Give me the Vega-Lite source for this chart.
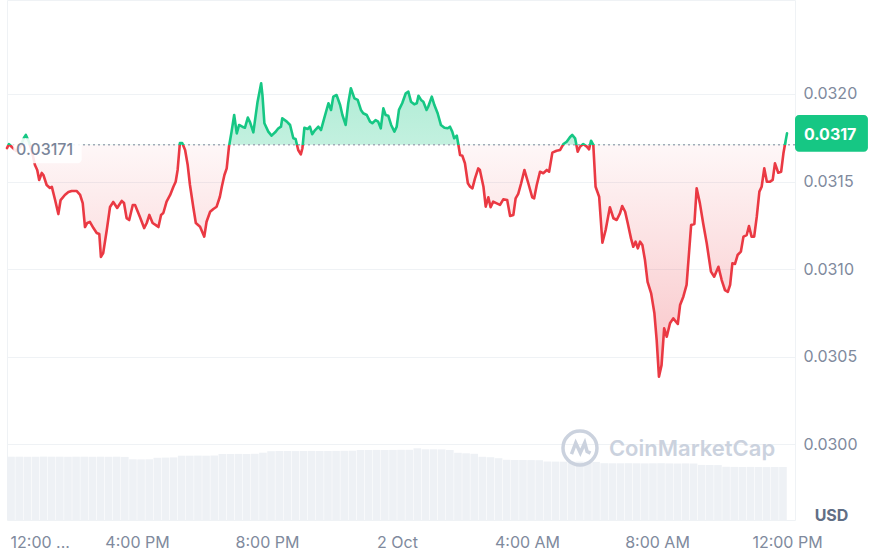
{
  "$schema": "https://vega.github.io/schema/vega-lite/v6.json",
  "width": 788,
  "height": 520,
  "autosize": {"type": "none"},
  "padding": {"left": 7, "top": 0, "right": 88, "bottom": 30},
  "background": "white",
  "config": {
    "view": {"stroke": "#eff2f5"},
    "font": "Inter",
    "axis": {"labelFont": "Inter", "labelFontSize": 16, "labelColor": "#808a9d", "domain": false, "ticks": false, "tickSize": 0, "gridColor": "#eff2f5", "gridWidth": 1}
  },
  "datasets": {
    "one": [{}],
    "price": [
      {"h":0.00,"price":0.031691},{"h":0.06,"price":0.031714},{"h":0.15,"price":0.031697},{"h":0.28,"price":0.031674},{"h":0.40,"price":0.031697},{"h":0.52,"price":0.031749},{"h":0.58,"price":0.031766},{"h":0.68,"price":0.031726},{"h":0.77,"price":0.031669},{"h":0.86,"price":0.031594},
      {"h":0.93,"price":0.031566},{"h":0.99,"price":0.031509},{"h":1.07,"price":0.031549},{"h":1.12,"price":0.031537},{"h":1.22,"price":0.031480},{"h":1.32,"price":0.031463},{"h":1.38,"price":0.031469},{"h":1.48,"price":0.031394},{"h":1.58,"price":0.031314},{"h":1.65,"price":0.031394},
      {"h":1.78,"price":0.031423},{"h":1.89,"price":0.031440},{"h":1.99,"price":0.031446},{"h":2.14,"price":0.031446},{"h":2.25,"price":0.031423},{"h":2.33,"price":0.031377},{"h":2.40,"price":0.031240},{"h":2.47,"price":0.031263},{"h":2.55,"price":0.031269},{"h":2.66,"price":0.031234},
      {"h":2.76,"price":0.031206},{"h":2.84,"price":0.031200},{"h":2.89,"price":0.031069},{"h":2.96,"price":0.031091},{"h":3.07,"price":0.031223},{"h":3.17,"price":0.031354},{"h":3.27,"price":0.031383},{"h":3.39,"price":0.031349},{"h":3.53,"price":0.031389},{"h":3.60,"price":0.031377},
      {"h":3.68,"price":0.031291},{"h":3.76,"price":0.031280},{"h":3.87,"price":0.031366},{"h":3.94,"price":0.031366},{"h":4.09,"price":0.031297},{"h":4.22,"price":0.031234},{"h":4.30,"price":0.031263},{"h":4.38,"price":0.031309},{"h":4.48,"price":0.031263},{"h":4.58,"price":0.031251},
      {"h":4.66,"price":0.031240},{"h":4.74,"price":0.031309},{"h":4.81,"price":0.031320},{"h":4.91,"price":0.031385},{"h":5.02,"price":0.031423},{"h":5.12,"price":0.031470},{"h":5.19,"price":0.031499},{"h":5.25,"price":0.031566},{"h":5.32,"price":0.031720},{"h":5.39,"price":0.031720},
      {"h":5.48,"price":0.031680},{"h":5.56,"price":0.031594},{"h":5.63,"price":0.031480},{"h":5.73,"price":0.031356},{"h":5.81,"price":0.031263},{"h":5.94,"price":0.031242},{"h":6.07,"price":0.031185},{"h":6.14,"price":0.031270},{"h":6.25,"price":0.031327},{"h":6.35,"price":0.031343},
      {"h":6.45,"price":0.031356},{"h":6.55,"price":0.031413},{"h":6.61,"price":0.031470},{"h":6.69,"price":0.031537},{"h":6.76,"price":0.031575},{"h":6.83,"price":0.031699},{"h":6.91,"price":0.031785},{"h":6.99,"price":0.031880},{"h":7.07,"price":0.031775},{"h":7.14,"price":0.031823},
      {"h":7.24,"price":0.031813},{"h":7.32,"price":0.031807},{"h":7.41,"price":0.031865},{"h":7.48,"price":0.031838},{"h":7.58,"price":0.031781},{"h":7.71,"price":0.031956},{"h":7.82,"price":0.032061},{"h":7.86,"price":0.031994},{"h":7.92,"price":0.031833},{"h":8.04,"price":0.031785},
      {"h":8.14,"price":0.031762},{"h":8.25,"price":0.031781},{"h":8.35,"price":0.031804},{"h":8.43,"price":0.031813},{"h":8.47,"price":0.031861},{"h":8.61,"price":0.031842},{"h":8.71,"price":0.031823},{"h":8.81,"price":0.031747},{"h":8.88,"price":0.031743},{"h":8.96,"price":0.031680},
      {"h":9.04,"price":0.031655},{"h":9.09,"price":0.031690},{"h":9.15,"price":0.031807},{"h":9.25,"price":0.031800},{"h":9.32,"price":0.031813},{"h":9.39,"price":0.031770},{"h":9.48,"price":0.031794},{"h":9.58,"price":0.031813},{"h":9.66,"price":0.031794},{"h":9.76,"price":0.031861},
      {"h":9.89,"price":0.031947},{"h":9.97,"price":0.031909},{"h":10.04,"price":0.031985},{"h":10.14,"price":0.031994},{"h":10.25,"price":0.031937},{"h":10.32,"price":0.031880},{"h":10.42,"price":0.031823},{"h":10.50,"price":0.031947},{"h":10.58,"price":0.032033},{"h":10.69,"price":0.031975},
      {"h":10.79,"price":0.031966},{"h":10.89,"price":0.031909},{"h":10.96,"price":0.031890},{"h":11.07,"price":0.031880},{"h":11.17,"price":0.031842},{"h":11.24,"price":0.031833},{"h":11.34,"price":0.031851},{"h":11.42,"price":0.031842},{"h":11.50,"price":0.031804},{"h":11.58,"price":0.031918},
      {"h":11.65,"price":0.031880},{"h":11.73,"price":0.031876},{"h":11.82,"price":0.031823},{"h":11.92,"price":0.031785},{"h":11.99,"price":0.031813},{"h":12.06,"price":0.031909},{"h":12.16,"price":0.031947},{"h":12.27,"price":0.032004},{"h":12.35,"price":0.032013},{"h":12.43,"price":0.031956},
      {"h":12.53,"price":0.031941},{"h":12.61,"price":0.031947},{"h":12.66,"price":0.031990},{"h":12.74,"price":0.031966},{"h":12.81,"price":0.031956},{"h":12.91,"price":0.031909},{"h":12.96,"price":0.031927},{"h":13.07,"price":0.031985},{"h":13.15,"price":0.031937},{"h":13.25,"price":0.031890},
      {"h":13.35,"price":0.031823},{"h":13.46,"price":0.031807},{"h":13.56,"price":0.031804},{"h":13.63,"price":0.031813},{"h":13.70,"price":0.031785},{"h":13.76,"price":0.031747},{"h":13.84,"price":0.031762},{"h":13.89,"price":0.031709},{"h":13.94,"price":0.031651},{"h":14.01,"price":0.031647},
      {"h":14.09,"price":0.031604},{"h":14.18,"price":0.031490},{"h":14.25,"price":0.031470},{"h":14.32,"price":0.031461},{"h":14.40,"price":0.031518},{"h":14.50,"price":0.031575},{"h":14.55,"price":0.031566},{"h":14.66,"price":0.031470},{"h":14.73,"price":0.031356},{"h":14.81,"price":0.031410},
      {"h":14.88,"price":0.031353},{"h":14.96,"price":0.031385},{"h":15.07,"price":0.031375},{"h":15.17,"price":0.031366},{"h":15.27,"price":0.031398},{"h":15.39,"price":0.031394},{"h":15.48,"price":0.031303},{"h":15.58,"price":0.031309},{"h":15.65,"price":0.031404},{"h":15.73,"price":0.031429},
      {"h":15.82,"price":0.031490},{"h":15.92,"price":0.031566},{"h":16.04,"price":0.031490},{"h":16.16,"price":0.031410},{"h":16.22,"price":0.031404},{"h":16.30,"price":0.031480},{"h":16.40,"price":0.031556},{"h":16.50,"price":0.031547},{"h":16.61,"price":0.031566},{"h":16.68,"price":0.031556},
      {"h":16.78,"price":0.031665},{"h":16.91,"price":0.031676},{"h":17.02,"price":0.031680},{"h":17.12,"price":0.031714},{"h":17.22,"price":0.031727},{"h":17.32,"price":0.031753},{"h":17.39,"price":0.031766},{"h":17.48,"price":0.031747},{"h":17.56,"price":0.031670},{"h":17.63,"price":0.031699},
      {"h":17.73,"price":0.031714},{"h":17.84,"price":0.031699},{"h":17.91,"price":0.031684},{"h":17.97,"price":0.031733},{"h":18.04,"price":0.031709},{"h":18.11,"price":0.031470},{"h":18.22,"price":0.031413},{"h":18.32,"price":0.031150},{"h":18.42,"price":0.031223},{"h":18.55,"price":0.031353},
      {"h":18.66,"price":0.031290},{"h":18.76,"price":0.031280},{"h":18.86,"price":0.031318},{"h":18.93,"price":0.031360},{"h":19.02,"price":0.031327},{"h":19.10,"price":0.031261},{"h":19.20,"price":0.031175},{"h":19.27,"price":0.031127},{"h":19.34,"price":0.031156},{"h":19.41,"price":0.031118},
      {"h":19.48,"price":0.031156},{"h":19.55,"price":0.031137},{"h":19.63,"price":0.031051},{"h":19.71,"price":0.030927},{"h":19.82,"price":0.030861},{"h":19.92,"price":0.030747},{"h":19.99,"price":0.030594},{"h":20.06,"price":0.030385},{"h":20.14,"price":0.030451},{"h":20.22,"price":0.030661},
      {"h":20.30,"price":0.030613},{"h":20.40,"price":0.030690},{"h":20.50,"price":0.030718},{"h":20.64,"price":0.030686},{"h":20.71,"price":0.030794},{"h":20.81,"price":0.030842},{"h":20.91,"price":0.030909},{"h":21.05,"price":0.031251},{"h":21.15,"price":0.031257},{"h":21.22,"price":0.031461},
      {"h":21.32,"price":0.031375},{"h":21.42,"price":0.031261},{"h":21.53,"price":0.031147},{"h":21.66,"price":0.030985},{"h":21.76,"price":0.030956},{"h":21.89,"price":0.031013},{"h":21.99,"price":0.030937},{"h":22.09,"price":0.030880},{"h":22.18,"price":0.030870},{"h":22.25,"price":0.030909},
      {"h":22.32,"price":0.031033},{"h":22.40,"price":0.031029},{"h":22.48,"price":0.031080},{"h":22.58,"price":0.031099},{"h":22.66,"price":0.031185},{"h":22.76,"price":0.031194},{"h":22.83,"price":0.031246},{"h":22.91,"price":0.031185},{"h":22.99,"price":0.031185},{"h":23.07,"price":0.031299},
      {"h":23.15,"price":0.031442},{"h":23.22,"price":0.031470},{"h":23.30,"price":0.031575},{"h":23.38,"price":0.031499},{"h":23.48,"price":0.031499},{"h":23.56,"price":0.031509},{"h":23.63,"price":0.031604},{"h":23.73,"price":0.031550},{"h":23.82,"price":0.031556},{"h":23.89,"price":0.031661},
      {"h":23.94,"price":0.031714},{"h":24.00,"price":0.031775}
    ],
    "volume": [
      {"h":0.125,"volume":633},{"h":0.375,"volume":633},{"h":0.625,"volume":632},{"h":0.875,"volume":633},{"h":1.125,"volume":634},{"h":1.375,"volume":633},{"h":1.625,"volume":633},{"h":1.875,"volume":632},
      {"h":2.125,"volume":633},{"h":2.375,"volume":633},{"h":2.625,"volume":632},{"h":2.875,"volume":633},{"h":3.125,"volume":632},{"h":3.375,"volume":633},{"h":3.625,"volume":631},{"h":3.875,"volume":607},
      {"h":4.125,"volume":606},{"h":4.375,"volume":607},{"h":4.625,"volume":622},{"h":4.875,"volume":624},{"h":5.125,"volume":626},{"h":5.375,"volume":643},{"h":5.625,"volume":643},{"h":5.875,"volume":644},
      {"h":6.125,"volume":643},{"h":6.375,"volume":645},{"h":6.625,"volume":660},{"h":6.875,"volume":660},{"h":7.125,"volume":661},{"h":7.375,"volume":660},{"h":7.625,"volume":662},{"h":7.875,"volume":673},
      {"h":8.125,"volume":688},{"h":8.375,"volume":690},{"h":8.625,"volume":690},{"h":8.875,"volume":689},{"h":9.125,"volume":690},{"h":9.375,"volume":691},{"h":9.625,"volume":690},{"h":9.875,"volume":690},
      {"h":10.125,"volume":691},{"h":10.375,"volume":692},{"h":10.625,"volume":693},{"h":10.875,"volume":700},{"h":11.125,"volume":700},{"h":11.375,"volume":701},{"h":11.625,"volume":700},{"h":11.875,"volume":701},
      {"h":12.125,"volume":702},{"h":12.375,"volume":702},{"h":12.625,"volume":717},{"h":12.875,"volume":707},{"h":13.125,"volume":707},{"h":13.375,"volume":706},{"h":13.625,"volume":700},{"h":13.875,"volume":672},
      {"h":14.125,"volume":667},{"h":14.375,"volume":662},{"h":14.625,"volume":632},{"h":14.875,"volume":628},{"h":15.125,"volume":618},{"h":15.375,"volume":602},{"h":15.625,"volume":600},{"h":15.875,"volume":600},
      {"h":16.125,"volume":599},{"h":16.375,"volume":598},{"h":16.625,"volume":585},{"h":16.875,"volume":584},{"h":17.125,"volume":583},{"h":17.375,"volume":583},{"h":17.625,"volume":584},{"h":17.875,"volume":582},
      {"h":18.125,"volume":581},{"h":18.375,"volume":568},{"h":18.625,"volume":567},{"h":18.875,"volume":567},{"h":19.125,"volume":568},{"h":19.375,"volume":567},{"h":19.625,"volume":566},{"h":19.875,"volume":567},
      {"h":20.125,"volume":568},{"h":20.375,"volume":566},{"h":20.625,"volume":565},{"h":20.875,"volume":566},{"h":21.125,"volume":565},{"h":21.375,"volume":551},{"h":21.625,"volume":550},{"h":21.875,"volume":549},
      {"h":22.125,"volume":532},{"h":22.375,"volume":531},{"h":22.625,"volume":530},{"h":22.875,"volume":531},{"h":23.125,"volume":530},{"h":23.375,"volume":529},{"h":23.625,"volume":530},{"h":23.875,"volume":530}
    ]
  },
  "layer": [
    {
      "data": {"name": "volume"},
      "mark": {"type": "bar", "size": 7.6, "color": "#eef1f5"},
      "encoding": {
        "x": {"field": "h", "type": "quantitative", "scale": {"domain": [0, 24.246], "nice": false, "zero": false, "padding": 0},
          "axis": {
            "values": [0, 4, 8, 12, 16, 20, 24],
            "labelExpr": "datum.value == 0 ? '12:00 ...' : datum.value == 4 ? '4:00 PM' : datum.value == 8 ? '8:00 PM' : datum.value == 12 ? '2 Oct' : datum.value == 16 ? '4:00 AM' : datum.value == 20 ? '8:00 AM' : '12:00 PM'",
            "grid": false, "title": null, "labelPadding": 14,
            "labelAlign": {"condition": {"test": "datum.value == 0", "value": "left"}, "value": "center"},
            "labelOffset": {"condition": {"test": "datum.value == 0", "value": 3}, "value": 0},
            "labelOverlap": false, "labelFlush": false, "labelBound": false
          }
        },
        "y": {"field": "volume", "type": "quantitative", "scale": {"domain": [0, 5200], "nice": false}, "axis": null}
      }
    },
    {
      "layer": [
        {
          "data": {"name": "price"},
          "mark": {
            "type": "area",
            "fill": {"gradient": "linear", "x1": 0, "y1": 0, "x2": 0, "y2": 1, "stops": [
              {"offset": 0, "color": "rgba(22,199,132,0.34)"},
              {"offset": 0.2094, "color": "rgba(22,199,132,0.26)"},
              {"offset": 0.2094, "color": "rgba(234,57,67,0.04)"},
              {"offset": 1, "color": "rgba(234,57,67,0.30)"}
            ]}
          },
          "encoding": {
            "x": {"field": "h", "type": "quantitative", "scale": {"domain": [0, 24.246], "nice": false, "zero": false, "padding": 0}},
            "y": {"field": "price", "type": "quantitative", "scale": {"domain": [0.029566, 0.032537], "nice": false, "zero": false},
              "axis": {
                "orient": "right", "values": [0.03, 0.0305, 0.031, 0.0315, 0.032], "format": ".4f", "grid": true,
                "labelPadding": 8, "labelAlign": "left", "labelBaseline": "middle",
                "title": "USD", "titleAngle": 0, "titleX": 36, "titleY": 515, "titleAlign": "center", "titleBaseline": "middle",
                "titleFont": "Inter", "titleFontSize": 16, "titleFontWeight": "bold", "titleColor": "#616e85"
              }
            },
            "y2": {"datum": 0.03171}
          }
        },
        {
          "data": {"name": "one"},
          "mark": {"type": "rule", "stroke": "#a3abb8", "strokeWidth": 1.3, "strokeDash": [2, 3]},
          "encoding": {
            "y": {"datum": 0.03171}
          }
        },
        {
          "data": {"name": "price"},
          "mark": {
            "type": "line", "strokeWidth": 2.6, "strokeJoin": "round", "strokeCap": "round",
            "stroke": {"gradient": "linear", "x1": 0, "y1": 0, "x2": 0, "y2": 1, "stops": [
              {"offset": 0, "color": "#16c784"},
              {"offset": 0.2094, "color": "#16c784"},
              {"offset": 0.2094, "color": "#ea3943"},
              {"offset": 1, "color": "#ea3943"}
            ]}
          },
          "encoding": {
            "x": {"field": "h", "type": "quantitative"},
            "y": {"field": "price", "type": "quantitative"}
          }
        },
        {
          "data": {"name": "one"},
          "mark": {"type": "rect", "fill": "white", "opacity": 0.88, "cornerRadius": 4},
          "encoding": {
            "x": {"datum": 0.194},
            "x2": {"datum": 2.298},
            "y": {"datum": 0.031747},
            "y2": {"datum": 0.031604}
          }
        },
        {
          "data": {"name": "one"},
          "mark": {"type": "text", "text": "0.03171", "font": "Inter", "fontSize": 16, "fontWeight": 500, "color": "#7a8599", "align": "left", "baseline": "middle", "dx": 9, "dy": 5},
          "encoding": {
            "x": {"datum": 0},
            "y": {"datum": 0.03171}
          }
        },
        {
          "data": {"name": "one"},
          "mark": {"type": "point", "shape": "M 1 0 A 1 1 0 1 1 -1 0 A 1 1 0 1 1 1 0 M -0.5 0.35 L -0.25 -0.3 L 0.02 0.28 L 0.28 -0.3 L 0.42 0.2 L 0.62 0.3", "filled": false, "stroke": "#cbd2de", "strokeWidth": 3.5, "size": 1156, "opacity": 1},
          "encoding": {
            "x": {"datum": 17.63},
            "y": {"datum": 0.029977}
          }
        },
        {
          "data": {"name": "one"},
          "mark": {"type": "text", "text": "CoinMarketCap", "font": "Inter", "fontSize": 22, "fontWeight": 600, "color": "#cbd2de", "align": "left", "baseline": "middle"},
          "encoding": {
            "x": {"datum": 18.52},
            "y": {"datum": 0.029971}
          }
        },
        {
          "data": {"name": "one"},
          "mark": {"type": "rect", "fill": "#16c784", "cornerRadius": 4},
          "encoding": {
            "x": {"datum": 24.246},
            "x2": {"datum": 26.49},
            "y": {"datum": 0.03188},
            "y2": {"datum": 0.03167}
          }
        },
        {
          "data": {"name": "one"},
          "mark": {"type": "text", "text": "0.0317", "font": "Inter", "fontSize": 16, "fontWeight": "bold", "color": "white", "align": "left", "baseline": "middle"},
          "encoding": {
            "x": {"datum": 24.52},
            "y": {"datum": 0.031766}
          }
        }
      ]
    }
  ],
  "resolve": {"scale": {"y": "independent"}}
}
